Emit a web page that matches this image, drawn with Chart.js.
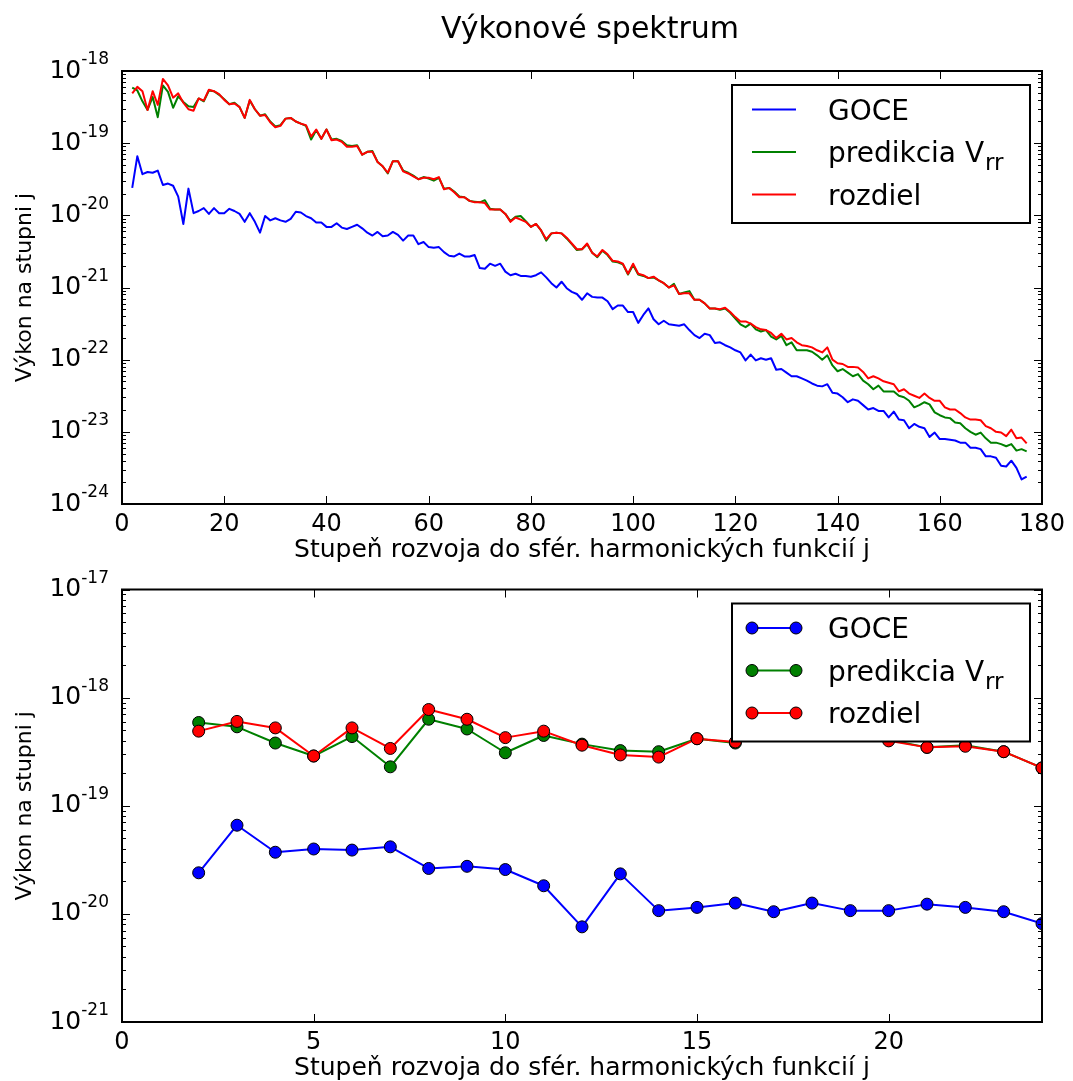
<!DOCTYPE html>
<html>
<head>
<meta charset="utf-8">
<script src="https://cdn.jsdelivr.net/npm/chart.js@4.4.1/dist/chart.umd.min.js"></script>
<style>
html, body { margin: 0; padding: 0; background: #fff; }
#wrap { position: relative; width: 1073px; height: 1081px; overflow: hidden; background: #fff; }
canvas { position: absolute; left: 0; }
#c1 { top: 0; }
#c2 { top: 565px; }
</style>
</head>
<body>
<div id="wrap">
  <canvas id="c1" width="1073" height="565"></canvas>
  <canvas id="c2" width="1073" height="516"></canvas>
</div>
<script>
// ---------- data (log10 of power per degree) ----------
const degrees = [
  2, 3, 4, 5, 6, 7, 8, 9, 10, 11,
  12, 13, 14, 15, 16, 17, 18, 19, 20, 21,
  22, 23, 24, 25, 26, 27, 28, 29, 30, 31,
  32, 33, 34, 35, 36, 37, 38, 39, 40, 41,
  42, 43, 44, 45, 46, 47, 48, 49, 50, 51,
  52, 53, 54, 55, 56, 57, 58, 59, 60, 61,
  62, 63, 64, 65, 66, 67, 68, 69, 70, 71,
  72, 73, 74, 75, 76, 77, 78, 79, 80, 81,
  82, 83, 84, 85, 86, 87, 88, 89, 90, 91,
  92, 93, 94, 95, 96, 97, 98, 99, 100, 101,
  102, 103, 104, 105, 106, 107, 108, 109, 110, 111,
  112, 113, 114, 115, 116, 117, 118, 119, 120, 121,
  122, 123, 124, 125, 126, 127, 128, 129, 130, 131,
  132, 133, 134, 135, 136, 137, 138, 139, 140, 141,
  142, 143, 144, 145, 146, 147, 148, 149, 150, 151,
  152, 153, 154, 155, 156, 157, 158, 159, 160, 161,
  162, 163, 164, 165, 166, 167, 168, 169, 170, 171,
  172, 173, 174, 175, 176, 177
];

const goceLog10 = [
  -19.62, -19.18, -19.43, -19.40, -19.41, -19.38, -19.58, -19.56, -19.59, -19.74,
  -20.12, -19.63, -19.97, -19.94, -19.90, -19.98, -19.90, -19.97, -19.97, -19.91,
  -19.94, -19.98, -20.09, -19.97, -20.09, -20.24, -20.01, -20.07, -20.04, -20.07,
  -20.09, -20.05, -19.95, -19.96, -20.01, -20.04, -20.10, -20.10, -20.16, -20.16,
  -20.11, -20.17, -20.19, -20.16, -20.13, -20.18, -20.24, -20.28, -20.23, -20.29,
  -20.28, -20.23, -20.27, -20.35, -20.28, -20.28, -20.40, -20.37, -20.44, -20.45,
  -20.44, -20.51, -20.56, -20.57, -20.53, -20.57, -20.57, -20.55, -20.73, -20.74,
  -20.67, -20.70, -20.67, -20.78, -20.83, -20.81, -20.84, -20.84, -20.85, -20.83,
  -20.79, -20.86, -20.94, -21.00, -20.92, -21.01, -21.06, -21.09, -21.17, -21.08,
  -21.13, -21.14, -21.14, -21.19, -21.30, -21.25, -21.25, -21.34, -21.34, -21.49,
  -21.38, -21.29, -21.44, -21.51, -21.46, -21.51, -21.52, -21.53, -21.51, -21.59,
  -21.66, -21.70, -21.64, -21.66, -21.77, -21.76, -21.80, -21.83, -21.87, -21.90,
  -22.01, -21.93, -22.01, -21.98, -22.00, -21.98, -22.14, -22.13, -22.18, -22.23,
  -22.23, -22.26, -22.29, -22.33, -22.36, -22.37, -22.34, -22.46, -22.47, -22.52,
  -22.59, -22.55, -22.57, -22.63, -22.69, -22.67, -22.71, -22.71, -22.80, -22.72,
  -22.83, -22.84, -22.95, -22.89, -22.93, -22.95, -23.07, -23.01, -23.10, -23.10,
  -23.11, -23.12, -23.15, -23.15, -23.22, -23.22, -23.24, -23.34, -23.34, -23.36,
  -23.47, -23.48, -23.40, -23.50, -23.66, -23.62
];

const predikciaLog10 = [
  -18.23, -18.27, -18.42, -18.54, -18.36, -18.64, -18.20, -18.29, -18.51, -18.35,
  -18.43, -18.49, -18.50, -18.38, -18.42, -18.27, -18.28, -18.33, -18.39, -18.46,
  -18.44, -18.50, -18.65, -18.41, -18.53, -18.62, -18.60, -18.70, -18.77, -18.75,
  -18.66, -18.65, -18.70, -18.73, -18.76, -18.95, -18.82, -18.94, -18.81, -18.95,
  -18.94, -18.97, -19.03, -19.04, -19.03, -19.16, -19.12, -19.11, -19.26, -19.32,
  -19.42, -19.25, -19.25, -19.38, -19.41, -19.45, -19.50, -19.47, -19.49, -19.52,
  -19.48, -19.63, -19.62, -19.67, -19.74, -19.75, -19.80, -19.81, -19.82, -19.79,
  -19.91, -19.92, -19.92, -19.98, -20.08, -20.02, -20.01, -20.08, -20.16, -20.12,
  -20.21, -20.35, -20.25, -20.24, -20.25, -20.32, -20.40, -20.48, -20.47, -20.40,
  -20.52, -20.58, -20.49, -20.55, -20.64, -20.65, -20.68, -20.82, -20.69, -20.82,
  -20.84, -20.87, -20.86, -20.90, -20.94, -21.00, -20.95, -21.09, -21.07, -21.05,
  -21.17, -21.17, -21.22, -21.29, -21.29, -21.31, -21.29, -21.35, -21.43, -21.51,
  -21.55, -21.50, -21.58, -21.61, -21.59, -21.68, -21.72, -21.67, -21.80, -21.76,
  -21.87, -21.87, -21.87, -21.89, -21.94, -22.00, -21.94, -22.08, -22.16, -22.13,
  -22.18, -22.23, -22.20, -22.29, -22.34, -22.41, -22.36, -22.44, -22.44, -22.44,
  -22.50, -22.52, -22.57, -22.66, -22.63, -22.59, -22.62, -22.73, -22.77, -22.80,
  -22.81, -22.87, -22.88, -22.95, -23.00, -23.04, -23.01, -23.09, -23.15, -23.15,
  -23.17, -23.20, -23.17, -23.26, -23.24, -23.27
];

const rozdielLog10 = [
  -18.31, -18.22, -18.28, -18.54, -18.28, -18.47, -18.11, -18.20, -18.37, -18.31,
  -18.44, -18.53, -18.55, -18.38, -18.41, -18.26, -18.28, -18.32, -18.40, -18.46,
  -18.45, -18.50, -18.65, -18.40, -18.53, -18.62, -18.61, -18.71, -18.78, -18.76,
  -18.66, -18.65, -18.70, -18.73, -18.75, -18.91, -18.81, -18.94, -18.81, -18.96,
  -18.95, -18.98, -19.05, -19.05, -19.04, -19.16, -19.12, -19.12, -19.26, -19.32,
  -19.41, -19.25, -19.25, -19.39, -19.42, -19.46, -19.50, -19.48, -19.48, -19.50,
  -19.47, -19.64, -19.62, -19.68, -19.75, -19.75, -19.80, -19.82, -19.82, -19.83,
  -19.92, -19.92, -19.92, -19.98, -20.09, -20.03, -20.06, -20.09, -20.16, -20.12,
  -20.21, -20.33, -20.25, -20.24, -20.25, -20.31, -20.39, -20.47, -20.47, -20.39,
  -20.52, -20.57, -20.48, -20.54, -20.63, -20.64, -20.67, -20.81, -20.67, -20.81,
  -20.83, -20.87, -20.85, -20.90, -20.94, -21.00, -20.97, -21.09, -21.08, -21.08,
  -21.17, -21.17, -21.22, -21.29, -21.29, -21.30, -21.28, -21.34, -21.41, -21.47,
  -21.47, -21.50, -21.55, -21.58, -21.59, -21.63, -21.70, -21.64, -21.72, -21.70,
  -21.76, -21.80, -21.81, -21.83, -21.87, -21.90, -21.83, -22.00, -22.05, -22.06,
  -22.10, -22.10, -22.11, -22.17, -22.26, -22.23, -22.26, -22.30, -22.32, -22.34,
  -22.44, -22.41, -22.47, -22.50, -22.53, -22.47, -22.53, -22.57, -22.57, -22.66,
  -22.69, -22.69, -22.74, -22.80, -22.83, -22.83, -22.84, -22.92, -22.95, -23.00,
  -23.01, -23.06, -22.97, -23.09, -23.08, -23.16
];

const seriesLabels = ['GOCE', 'predikcia V_rr', 'rozdiel'];
const seriesColors = ['#0000ff', '#008000', '#ff0000'];

const chartTitle = 'Výkonové spektrum';
const xTitle = 'Stupeň rozvoja do sfér. harmonických funkcií j';
const yTitle = 'Výkon na stupni j';

const xTicksTop = [0, 20, 40, 60, 80, 100, 120, 140, 160, 180];
const yExpTop = [-24, -23, -22, -21, -20, -19, -18];
const xTicksBottom = [0, 5, 10, 15, 20];
const yExpBottom = [-21, -20, -19, -18, -17];

// ---------- rendering ----------
const FONT = '"DejaVu Sans", "Liberation Sans", sans-serif';
Chart.defaults.font.family = FONT;
Chart.defaults.color = '#000';

const mplPlugin = {
  id: 'mpl',
  afterDatasetsDraw(chart, args, o) {
    const { ctx, chartArea: a } = chart;
    const xs = chart.scales.x, ys = chart.scales.y;
    ctx.save();
    ctx.strokeStyle = '#000';
    ctx.lineWidth = 1;
    ctx.beginPath();
    const last = o.yExps[o.yExps.length - 1];
    for (const e of o.yExps) {
      for (let k = 1; k <= 9; k++) {
        if (e === last && k > 1) break;
        const y = Math.round(ys.getPixelForValue(k * Math.pow(10, e))) + 0.5;
        const len = k === 1 ? 8 : 4;
        ctx.moveTo(a.left, y); ctx.lineTo(a.left + len, y);
        ctx.moveTo(a.right, y); ctx.lineTo(a.right - len, y);
      }
    }
    for (const t of o.xTicks) {
      const x = Math.round(xs.getPixelForValue(t)) + 0.5;
      ctx.moveTo(x, a.bottom); ctx.lineTo(x, a.bottom - 8);
      ctx.moveTo(x, a.top); ctx.lineTo(x, a.top + 8);
    }
    ctx.stroke();
    ctx.lineWidth = 2;
    ctx.strokeRect(a.left, a.top, a.right - a.left, a.bottom - a.top);
    ctx.restore();
  },
  afterDraw(chart, args, o) {
    const { ctx, chartArea: a } = chart;
    const ys = chart.scales.y;
    ctx.save();
    ctx.fillStyle = '#000';
    // y tick labels 10^n
    for (const e of o.yExps) {
      const y = ys.getPixelForValue(Math.pow(10, e));
      const sup = String(e);
      const right = a.left - 13;
      ctx.font = '17px ' + FONT;
      const supW = ctx.measureText(sup).width;
      ctx.textAlign = 'left';
      ctx.textBaseline = 'middle';
      ctx.fillText(sup, right - supW, y - 11);
      ctx.font = '25px ' + FONT;
      ctx.textAlign = 'right';
      ctx.fillText('10', right - supW, y);
    }
    // title
    if (o.title) {
      ctx.font = '30px ' + FONT;
      ctx.textAlign = 'center';
      ctx.textBaseline = 'middle';
      ctx.fillText(o.title, 590, 30);
    }
    // legend
    const lw = 298, lh = 138;
    const lx = a.right - 12 - lw, ly = a.top + 14;
    ctx.fillStyle = '#fff';
    ctx.fillRect(lx, ly, lw, lh);
    ctx.lineWidth = 2;
    ctx.strokeStyle = '#000';
    ctx.strokeRect(lx, ly, lw, lh);
    chart.data.datasets.forEach((ds, i) => {
      const y = ly + 24.5 + i * 42.5;
      ctx.strokeStyle = ds.borderColor;
      ctx.lineWidth = 2;
      ctx.beginPath();
      ctx.moveTo(lx + 20, y); ctx.lineTo(lx + 64, y);
      ctx.stroke();
      if (ds.pointRadius > 0) {
        for (const px of [lx + 20, lx + 64]) {
          ctx.beginPath();
          ctx.arc(px, y, ds.pointRadius, 0, Math.PI * 2);
          ctx.fillStyle = ds.backgroundColor;
          ctx.fill();
          ctx.lineWidth = 1;
          ctx.strokeStyle = '#000';
          ctx.stroke();
        }
      }
      const parts = ds.label.split('_');
      ctx.fillStyle = '#000';
      ctx.textAlign = 'left';
      ctx.textBaseline = 'alphabetic';
      ctx.font = '28px ' + FONT;
      ctx.fillText(parts[0], lx + 96, y + 10);
      if (parts[1]) {
        const w = ctx.measureText(parts[0]).width;
        ctx.font = '23px ' + FONT;
        ctx.fillText(parts[1], lx + 96 + w + 1, y + 18);
      }
    });
    ctx.restore();
  }
};

function seriesData(logVals) {
  return degrees.map((d, i) => ({ x: d, y: Math.pow(10, logVals[i]) }));
}

function makeDatasets(radius) {
  const vals = [goceLog10, predikciaLog10, rozdielLog10];
  return vals.map((v, i) => ({
    label: seriesLabels[i],
    data: seriesData(v),
    borderColor: seriesColors[i],
    backgroundColor: seriesColors[i],
    borderWidth: 2,
    borderJoinStyle: 'round',
    pointRadius: radius,
    pointBorderWidth: 1,
    pointBorderColor: '#000',
    pointBackgroundColor: seriesColors[i],
    tension: 0,
    fill: false,
    clip: 0,
    order: 3 - i
  }));
}

function makeChart(canvasId, cfg) {
  return new Chart(document.getElementById(canvasId), {
    type: 'line',
    data: { datasets: makeDatasets(cfg.radius) },
    options: {
      responsive: false,
      animation: false,
      events: [],
      layout: { padding: { top: cfg.padTop, right: 31, bottom: 0, left: 0 } },
      plugins: {
        legend: { display: false },
        tooltip: { enabled: false },
        mpl: { yExps: cfg.yExps, xTicks: cfg.xTicks, title: cfg.title }
      },
      scales: {
        x: {
          type: 'linear',
          min: cfg.xMin, max: cfg.xMax,
          afterBuildTicks: s => { s.ticks = cfg.xTicks.map(v => ({ value: v })); },
          afterFit: s => { s.height = cfg.xHeight; },
          grid: { display: false, drawTicks: false },
          border: { display: false },
          ticks: { font: { size: 24 }, color: '#000', padding: 6, maxRotation: 0, autoSkip: false },
          title: { display: true, text: xTitle, color: '#000', font: { size: 25, lineHeight: 1 }, padding: { top: 0, bottom: cfg.xTitlePad } }
        },
        y: {
          type: 'logarithmic',
          min: Math.pow(10, cfg.yExps[0]), max: Math.pow(10, cfg.yExps[cfg.yExps.length - 1]),
          afterBuildTicks: s => { s.ticks = cfg.yExps.map(e => ({ value: Math.pow(10, e), major: true })); },
          afterFit: s => { s.width = 122; },
          grid: { display: false, drawTicks: false },
          border: { display: false },
          ticks: { display: false },
          title: { display: true, text: yTitle, color: '#000', font: { size: 22, lineHeight: 1 }, padding: { top: 14, bottom: 0 } }
        }
      }
    },
    plugins: [mplPlugin]
  });
}

makeChart('c1', { radius: 0, padTop: 71, yExps: yExpTop, xTicks: xTicksTop, xMin: 0, xMax: 180, xHeight: 61, xTitlePad: 2.5, title: chartTitle });
makeChart('c2', { radius: 6, padTop: 24.5, yExps: yExpBottom, xTicks: xTicksBottom, xMin: 0, xMax: 24, xHeight: 59, xTitlePad: 0.5, title: null });
</script>
</body>
</html>
